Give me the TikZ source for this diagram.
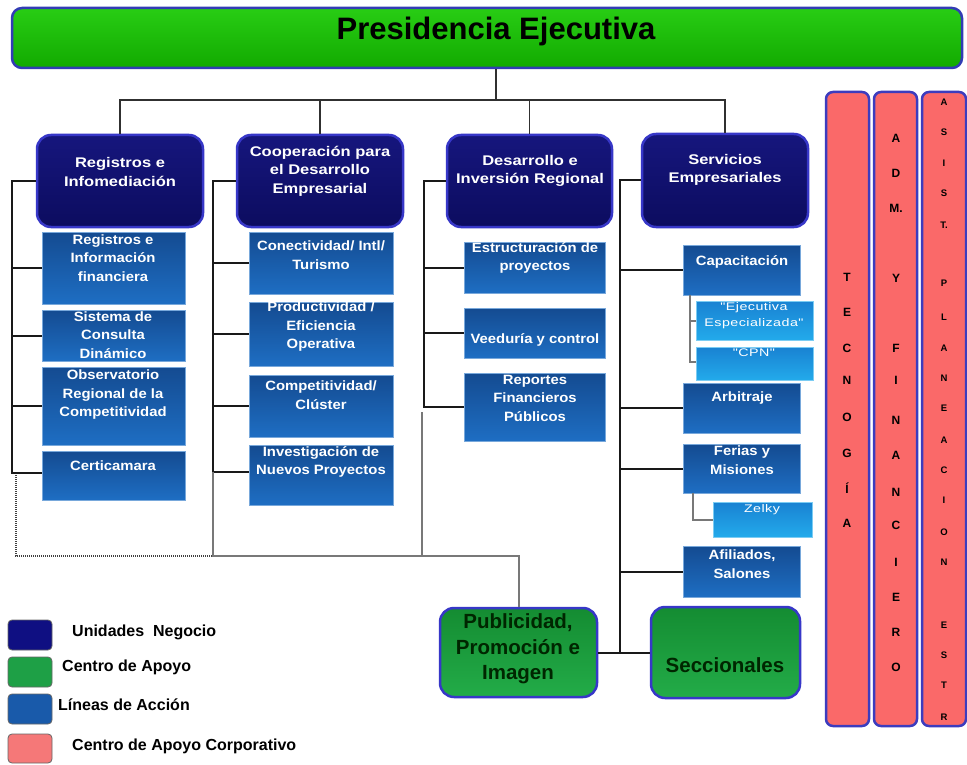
\documentclass[tikz,border=0pt]{standalone}
\usepackage{fontspec}
\setmainfont{Liberation Sans}
\newfontfamily\boxfont{Liberation Sans}[FakeStretch=1.18]
\newfontfamily\actfont{Liberation Sans}[FakeStretch=1.1]
\newfontfamily\subfont{Liberation Sans}[FakeStretch=1.3,LetterSpace=4]
\usetikzlibrary{calc}

% palette
\definecolor{titletop}{RGB}{40,205,20}
\definecolor{titlebot}{RGB}{18,170,0}
\definecolor{rimblue}{RGB}{50,60,180}
\definecolor{navytop}{RGB}{22,22,125}
\definecolor{navybot}{RGB}{12,12,95}
\definecolor{navyrim}{RGB}{55,55,200}
\definecolor{acttop}{RGB}{20,75,145}
\definecolor{actbot}{RGB}{30,110,195}
\definecolor{subtop}{RGB}{25,130,210}
\definecolor{subbot}{RGB}{35,170,235}
\definecolor{greentop}{RGB}{20,140,50}
\definecolor{greenbot}{RGB}{35,172,72}
\definecolor{barfill}{RGB}{250,105,105}
\definecolor{barrim}{RGB}{60,60,190}
\definecolor{wire}{RGB}{25,25,25}
\definecolor{wiregrey}{RGB}{120,120,120}
\definecolor{keynavy}{RGB}{15,15,130}
\definecolor{keygreen}{RGB}{30,160,70}
\definecolor{keyblue}{RGB}{25,90,170}
\definecolor{keypink}{RGB}{245,120,120}

% place a node spanning the rectangle (x1,y1)-(x2,y2)
\newcommand{\placebox}[6]{%
  \node[#2,minimum width={(#5)-(#3)},minimum height={(#6)-(#4)}]
    (#1) at ({((#3)+(#5))/2},{((#4)+(#6))/2}) {};}

\tikzset{
  titlebox/.style={draw=rimblue,line width=2.5pt,rounded corners=10pt,
    top color=titletop,bottom color=titlebot,inner sep=0pt},
  unitbox/.style={draw=navyrim,line width=2.5pt,rounded corners=14pt,
    top color=navytop,bottom color=navybot,inner sep=0pt},
  actbox/.style={draw=actbot!60!white,line width=0.6pt,
    top color=acttop,bottom color=actbot,inner sep=0pt},
  subbox/.style={draw=subbot!60!white,line width=0.6pt,
    top color=subtop,bottom color=subbot,inner sep=0pt},
  supportbox/.style={draw=navyrim,line width=2.5pt,rounded corners=14pt,
    top color=greentop,bottom color=greenbot,inner sep=0pt},
  barbox/.style={draw=barrim,line width=2.5pt,rounded corners=7pt,
    fill=barfill,inner sep=0pt},
  keybox/.style={draw=black!60,line width=0.8pt,rounded corners=4pt,inner sep=0pt,
    minimum width=44pt,minimum height=30pt},
  titletext/.style={font=\bfseries\fontsize{31}{36}\selectfont,inner sep=0pt},
  unittext/.style={text=white,align=center,inner sep=0pt,
    font=\boxfont\bfseries\fontsize{14}{18.5}\selectfont},
  acttext/.style={text=white,align=center,inner sep=0pt,
    font=\actfont\bfseries\fontsize{13.5}{18.5}\selectfont},
  subtext/.style={text=white,align=center,inner sep=0pt,
    font=\subfont\fontsize{11}{16}\selectfont},
  supporttext/.style={text=black!85!green,align=center,inner sep=0pt,
    font=\bfseries\fontsize{20.5}{25.5}\selectfont},
  barletter/.style={inner sep=0pt,font=\bfseries\fontsize{12}{12}\selectfont},
  smallletter/.style={inner sep=0pt,font=\bfseries\fontsize{9.5}{9.5}\selectfont},
  keytext/.style={anchor=west,inner sep=0pt,font=\bfseries\fontsize{16}{18}\selectfont},
  topwire/.style={draw=wire!90!white,line width=1.5pt},
  wirek/.style={draw=wire,line width=2pt},
  greywire/.style={draw=wiregrey,line width=2pt},
  dotwire/.style={draw=black!75,line width=1.5pt,dash pattern=on 1pt off 1pt},
}

\begin{document}
\begin{tikzpicture}[x=1pt,y=-1pt]
\useasboundingbox (0,0) rectangle (967,765);
\fill[white] (0,0) rectangle (967,765);

% ---- head office ----
\placebox{title}{titlebox}{12}{8}{962}{68}
\node[titletext] (titlet) at (496,31) {Presidencia Ejecutiva};

% ---- business units ----
\placebox{u1}{unitbox}{37}{135}{203}{227}
\placebox{u2}{unitbox}{237}{135}{403}{227}
\placebox{u3}{unitbox}{447}{135}{612}{227}
\placebox{u4}{unitbox}{642}{134}{808}{227}
\node[unittext] (u1t) at (120,172) {Registros e\\Infomediación};
\node[unittext] (u2t) at (320,171) {Cooperación para\\el Desarrollo\\Empresarial};
\node[unittext] (u3t) at (530,171) {Desarrollo e\\Inversión Regional};
\node[unittext] (u4t) at (725,170) {Servicios\\Empresariales};

% ---- lines of action ----
\placebox{a11}{actbox}{42}{232}{185}{304}
\placebox{a12}{actbox}{42}{310}{185}{361}
\placebox{a13}{actbox}{42}{367}{185}{445}
\placebox{a14}{actbox}{42}{451}{185}{500}
\node[acttext] (a11t) at (113,258) {Registros e\\Información\\financiera};
\node[acttext] (a12t) at (113,335) {Sistema de\\Consulta\\Dinámico};
\node[acttext] (a13t) at (113,395) {Observatorio\\Regional de la\\Competitividad};
\node[acttext] (a14t) at (113,466) {Certicamara};

\placebox{a21}{actbox}{249}{232}{393}{294}
\placebox{a22}{actbox}{249}{302}{393}{366}
\placebox{a23}{actbox}{249}{375}{393}{437}
\placebox{a24}{actbox}{249}{445}{393}{505}
\node[acttext] (a21t) at (321,255) {Conectividad/ Intl/\\Turismo};
\node[acttext] (a22t) at (321,327) {Productividad /\\Eficiencia\\Operativa};
\node[acttext] (a23t) at (321,395) {Competitividad/\\Clúster};
\node[acttext] (a24t) at (321,462) {Investigación de\\Nuevos Proyectos};

\placebox{a31}{actbox}{464}{242}{605}{293}
\placebox{a32}{actbox}{464}{308}{605}{358}
\placebox{a33}{actbox}{464}{373}{605}{441}
\node[acttext] (a31t) at (535,258) {Estructuración de\\proyectos};
\node[acttext] (a32t) at (535,340) {Veeduría y control};
\node[acttext] (a33t) at (535,398) {Reportes\\Financieros\\Públicos};

\placebox{a41}{actbox}{683}{245}{800}{295}
\placebox{a42}{actbox}{683}{383}{800}{433}
\placebox{a43}{actbox}{683}{444}{800}{493}
\placebox{a44}{actbox}{683}{546}{800}{597}
\node[acttext] (a41t) at (742,262) {Capacitación};
\node[acttext] (a42t) at (742,398) {Arbitraje};
\node[acttext] (a43t) at (742,460) {Ferias y\\Misiones};
\node[acttext] (a44t) at (742,564) {Afiliados,\\Salones};

\placebox{s1}{subbox}{696}{301}{813}{340}
\placebox{s2}{subbox}{696}{347}{813}{380}
\placebox{s3}{subbox}{713}{502}{812}{537}
\node[subtext] (s1t) at (754,316) {"Ejecutiva\\Especializada"};
\node[subtext] (s2t) at (754,353) {"CPN"};
\node[subtext] (s3t) at (762,510) {Zelky};

% ---- support centres ----
\placebox{g1}{supportbox}{440}{608}{597}{697}
\placebox{g2}{supportbox}{651}{607}{800}{698}
\node[supporttext] (g1t) at (518,649) {Publicidad,\\Promoción e\\Imagen};
\node[supporttext] (g2t) at (725,665) {Seccionales};

% ---- corporate support bars ----
\placebox{b1}{barbox}{826}{92}{869}{726}
\placebox{b2}{barbox}{874}{92}{917}{726}
\placebox{b3}{barbox}{922}{92}{966}{726}
\foreach \l/\y [count=\i] in {T/277,E/312,C/348,N/380,O/417,G/453,Í/488,A/523}
  \node[barletter] (tec\i) at (847,\y) {\l};
\foreach \l/\y [count=\i] in {A/138,D/173,M./208,Y/278,F/348,I/380,N/420,A/455,
    N/492,C/525,I/562,E/597,R/632,O/667}
  \node[barletter] (adm\i) at (896,\y) {\l};
\foreach \l/\y [count=\i] in {A/102,S/132,I/163,S/193,T./225,P/283,L/317,A/348,
    N/378,E/408,A/440,C/470,I/500,O/532,N/562,E/625,S/655,T/685,R/717}
  \node[smallletter] (ase\i) at (944,\y) {\l};

% ---- connectors: head office to units ----
\coordinate (bus) at (496,100);
\draw[topwire] (title.south -| bus) -- (bus);
\draw[topwire] (u1.north) |- (bus);
\draw[topwire] (u2.north) |- (bus);
\draw[topwire] (u3.north) |- (bus);
\draw[topwire] (u4.north) |- (bus);

% unit 1
\coordinate (sp1) at (12,473);
\draw[wirek] (u1.west) -| (sp1) -- (sp1 -| a14.west);
\foreach \n in {a11,a12,a13} \draw[wirek] (\n.west) -- (\n.west -| sp1);
\coordinate (dot1) at (16,475);
\coordinate (dotend) at (230,556);
\draw[dotwire] (dot1) |- (dotend);

% unit 2
\coordinate (sp2) at (213,472);
\draw[wirek] (u2.west) -| (sp2) -- (sp2 -| a24.west);
\foreach \n in {a21,a22,a23} \draw[wirek] (\n.west) -- (\n.west -| sp2);
\coordinate (j2) at (213,556);
\draw[greywire] (sp2) -- (j2) -| (g1.north);

% unit 3
\coordinate (sp3) at (424,407);
\draw[wirek] (u3.west) -| (sp3) -- (sp3 -| a33.west);
\foreach \n in {a31,a32} \draw[wirek] (\n.west) -- (\n.west -| sp3);
\coordinate (sp3b) at (422,412);
\draw[greywire] (sp3b) -- (sp3b |- j2) -- ++(15,0);

% unit 4
\coordinate (sp4) at (620,652);
\draw[wirek] (u4.west) -| (sp4);
\foreach \n in {a41,a42,a43,a44} \draw[wirek] (\n.west) -- (\n.west -| sp4);
\draw[wirek] (g1.east) -- (g2.west);

\coordinate (sb1) at (690,362);
\draw[greywire] (a41.south -| sb1) -- (sb1) -- (sb1 -| s2.west);
\draw[greywire] (s1.west) -- (s1.west -| sb1);
\coordinate (sb2) at (693,520);
\draw[greywire] (a43.south -| sb2) -- (sb2) -- (sb2 -| s3.west);

% ---- legend ----
\placebox{k1}{keybox,fill=keynavy}{8}{620}{52}{650}
\placebox{k2}{keybox,fill=keygreen}{8}{657}{52}{687}
\placebox{k3}{keybox,fill=keyblue}{8}{694}{52}{724}
\placebox{k4}{keybox,fill=keypink}{8}{734}{52}{763}
\node[keytext] (k1t) at (72,632) {Unidades\ \ Negocio};
\node[keytext] (k2t) at (62,667) {Centro de Apoyo};
\node[keytext] (k3t) at (58,705) {Líneas de Acción};
\node[keytext] (k4t) at (72,746) {Centro de Apoyo Corporativo};
\end{tikzpicture}
\end{document}
